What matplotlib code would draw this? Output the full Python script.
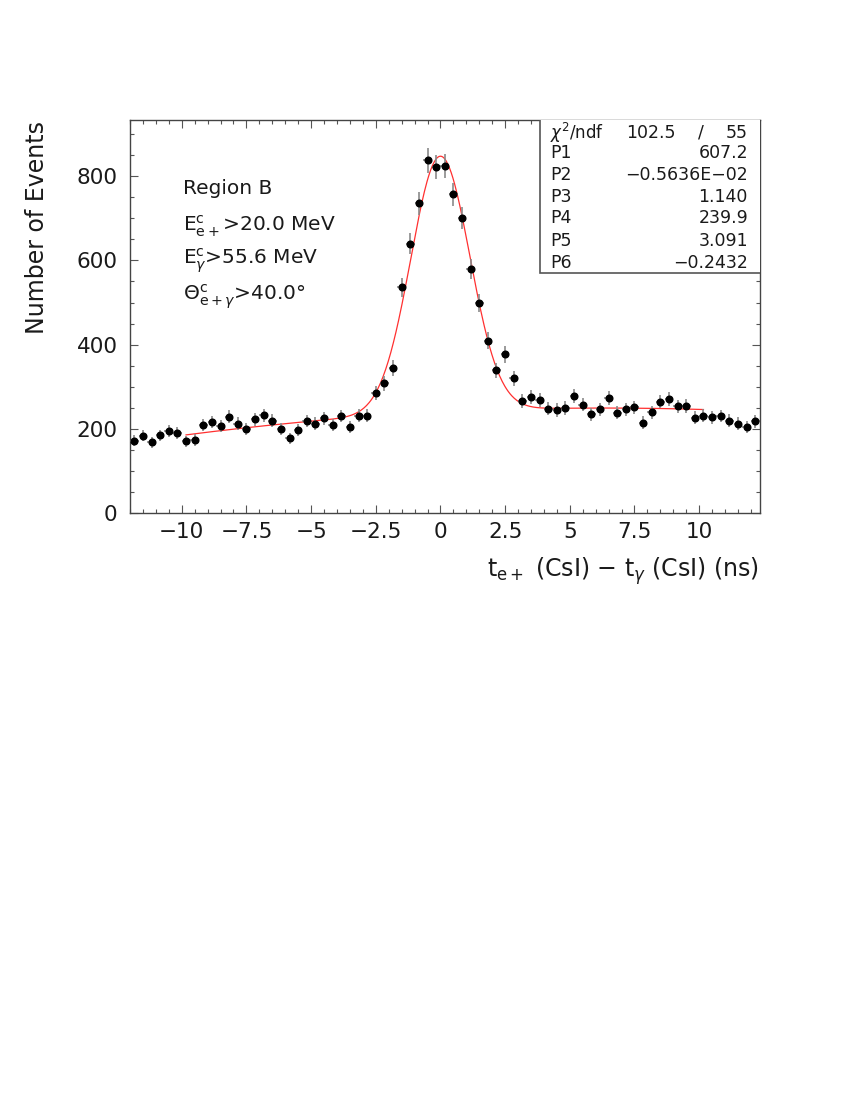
import numpy as np
import matplotlib.pyplot as plt
from matplotlib.patches import Rectangle
from matplotlib.ticker import MultipleLocator

# counts per 1/3 ns bin
counts = [172, 184, 168, 185, 196, 190, 171, 174, 209, 217,
          208, 229, 213, 201, 223, 233, 220, 200, 178, 198,
          219, 213, 225, 209, 231, 205, 232, 232, 285, 308,
          344, 536, 640, 735, 837, 821, 824, 757, 701, 580,
          499, 409, 339, 377, 320, 266, 275, 269, 248, 245,
          250, 278, 258, 235, 247, 274, 238, 247, 251, 215,
          240, 265, 271, 254, 255, 227, 232, 228, 231, 220,
          213, 205, 218]
x_lo = -12.0
bin_w = 1.0 / 3.0

# fit: gauss + quadratic background, params from the stat box
fit_pars = [607.2, -0.5636e-02, 1.140, 239.9, 3.091, -0.2432]
fit_range = [-9.8333, 10.1667]
chi2 = 102.5
ndf = 55

centers = x_lo + bin_w * (np.arange(len(counts)) + 0.5)
counts = np.array(counts, dtype=float)
errs = np.sqrt(counts)

plt.rcParams["font.family"] = ["DejaVu Sans"]
plt.rcParams["mathtext.fontset"] = "dejavusans"
txt_col = "#1a1a1a"

fig = plt.figure(figsize=(8.5, 11), dpi=100)
ax = fig.add_axes([130 / 850, 1 - 513.3 / 1100, 629.5 / 850, 393.3 / 1100])

ax.errorbar(centers, counts, yerr=errs, xerr=bin_w / 2, fmt="o", color="black",
            ms=4.8, ecolor="#8a8a8a", elinewidth=1.2, capsize=0, zorder=3)

p1, p2, p3, p4, p5, p6 = fit_pars
xf = np.linspace(fit_range[0], fit_range[1], 600)
yf = p1 * np.exp(-0.5 * ((xf - p2) / p3) ** 2) + p4 + p5 * xf + p6 * xf ** 2
ax.plot(xf, yf, color="#ff3030", lw=0.9, zorder=2)

ax.set_xlim(x_lo, x_lo + bin_w * len(counts))
ax.set_ylim(0, 933)
ax.xaxis.set_major_locator(MultipleLocator(2.5))
ax.xaxis.set_minor_locator(MultipleLocator(0.5))
ax.yaxis.set_major_locator(MultipleLocator(200))
ax.yaxis.set_minor_locator(MultipleLocator(50))
ax.tick_params(which="both", direction="in", top=True, right=True,
               color="#555555", width=0.8)
ax.tick_params(which="major", length=6)
ax.tick_params(which="minor", length=3)
ax.tick_params(axis="x", which="major", labelsize=15.5, pad=6, labelcolor=txt_col)
ax.tick_params(axis="y", which="major", labelsize=15.5, pad=9, labelcolor=txt_col)
ax.set_xticks([-10, -7.5, -5, -2.5, 0, 2.5, 5, 7.5, 10])
ax.set_xticklabels(["\u221210", "\u22127.5", "\u22125", "\u22122.5", "0",
                    "2.5", "5", "7.5", "10"])
for s in ax.spines.values():
    s.set_color("#444444")
    s.set_linewidth(1.0)

fig.text(37 / 850, 1 - 121 / 1100, "Number of Events", rotation=90,
         ha="center", va="top", fontsize=17, color=txt_col)
fig.text(759 / 850, 1 - 571 / 1100,
         r"t$_{\mathregular{e+}}$ (CsI) $-$ t$_{\gamma}$ (CsI) (ns)",
         ha="right", va="center", fontsize=17, color=txt_col)

# cut labels
cuts = ["Region B",
        r"E$^{\mathregular{c}}_{\mathregular{e+}}$>20.0 MeV",
        r"E$^{\mathregular{c}}_{\gamma}$>55.6 MeV",
        r"$\Theta^{\mathregular{c}}_{\mathregular{e+}\gamma}$>40.0°"]
cut_y = [189, 226, 261, 297]
for s, yy in zip(cuts, cut_y):
    fig.text(183 / 850, 1 - yy / 1100, s, ha="left", va="center",
             fontsize=14.5, color=txt_col)

# stat box
bx0 = (540 - 130) / 629.5
by0 = (513.3 - 273) / 393.3
ax.add_patch(Rectangle((bx0, by0), 1.2, 1.2, transform=ax.transAxes,
                       facecolor="white", edgecolor="#555555", lw=1.2,
                       zorder=4, clip_on=True))
row_names = ["P1", "P2", "P3", "P4", "P5", "P6"]
row_vals = ["607.2", "\u22120.5636E\u221202", "1.140", "239.9", "3.091",
            "\u22120.2432"]
row_y = [132.5, 153, 175, 197.3, 218.3, 240.5, 262.5]
fs_box = 12.5
fig.text(550 / 850, 1 - row_y[0] / 1100, r"$\chi^{2}$/ndf", ha="left",
         va="center", fontsize=fs_box - 0.5, color=txt_col, zorder=5)
fig.text(676 / 850, 1 - row_y[0] / 1100, f"{chi2:.1f}", ha="right",
         va="center", fontsize=fs_box, color=txt_col, zorder=5)
fig.text(701 / 850, 1 - row_y[0] / 1100, "/", ha="center",
         va="center", fontsize=fs_box, color=txt_col, zorder=5)
fig.text(748 / 850, 1 - row_y[0] / 1100, f"{ndf}", ha="right",
         va="center", fontsize=fs_box, color=txt_col, zorder=5)
for n, v, yy in zip(row_names, row_vals, row_y[1:]):
    fig.text(550 / 850, 1 - yy / 1100, n, ha="left", va="center",
             fontsize=fs_box, color=txt_col, zorder=5)
    fig.text(748 / 850, 1 - yy / 1100, v, ha="right", va="center",
             fontsize=fs_box, color=txt_col, zorder=5)

fig.savefig("out.png", dpi=100)
